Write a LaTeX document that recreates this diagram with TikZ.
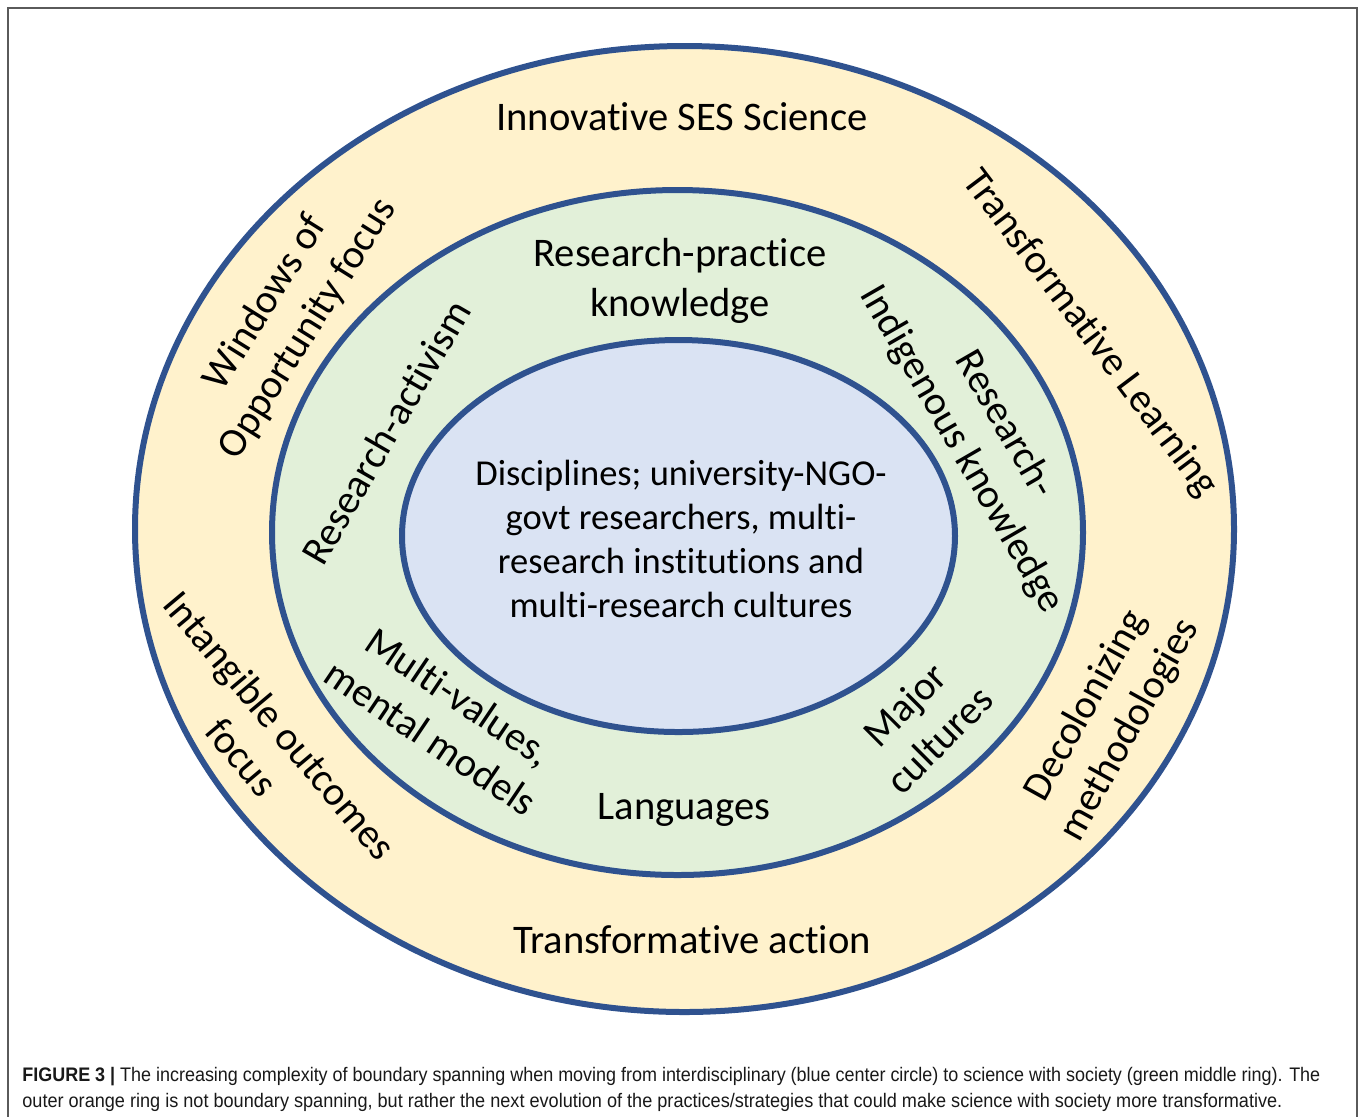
\documentclass[tikz,border=0pt]{standalone}
\usepackage{fontspec}
\setmainfont{Carlito}[Ligatures={NoCommon}]
\newfontfamily\capfont{Liberation Sans}
\usepackage{graphicx}
\definecolor{ringline}{HTML}{2F528F}
\definecolor{outerfill}{HTML}{FFF2CC}
\definecolor{midfill}{HTML}{E2F0D9}
\definecolor{innerfill}{HTML}{DAE3F3}
\definecolor{framegray}{HTML}{5A5A5A}
\newlength\fitlen
\newcommand\fitline[2]{\settowidth{\fitlen}{#2}\pgfmathsetmacro\fitratio{#1/\fitlen}\scalebox{\fitratio}[1]{#2}}
\tikzset{
  ring/.style={draw=ringline, line width=3pt},
  lbl/.style={font=\fontsize{20.3}{24.8}\selectfont, align=center, inner sep=0pt},
  inlbl/.style={font=\fontsize{18.25}{22}\selectfont, align=center, inner sep=0pt},
  caption/.style={font=\capfont\fontsize{9.8}{12}\selectfont, anchor=base west, inner sep=0pt, text=black!90},
}
\begin{document}
\begin{tikzpicture}[x=0.5pt,y=0.5pt]
\useasboundingbox (0,0) rectangle (1360,-1116);
\fill[white] (0,0) rectangle (1360,-1116);
\draw[framegray, line width=1pt] (8,-1120) -- (8,-8) -- (1357,-8) -- (1357,-1120);

% rings
\draw[ring, fill=outerfill] (684.5,-529) ellipse [x radius=274.75pt, y radius=241.5pt];
\draw[ring, fill=midfill] (677.5,-532.5) ellipse [x radius=202.75pt, y radius=171.25pt];
\draw[ring, fill=innerfill] (678.5,-536) ellipse [x radius=138.25pt, y radius=98pt];

% outer ring labels
\node[lbl] (ses) at (682,-117) {Innovative SES Science};
\node[lbl, rotate=-53] (tlearn) at (1090,-334) {Transformative Learning};
\node[lbl, rotate=58] (windows) at (287,-316) {Windows of\\Opportunity focus};
\node[lbl, rotate=-50] (intang) at (261,-741) {Intangible outcomes\\focus};
\node[lbl, rotate=61] (decol) at (1108,-718) {Decolonizing\\methodologies};
\node[lbl] (taction) at (692,-940) {Transformative action};

% middle ring labels
\node[lbl] (rpk) at (680,-281) {Research-practice\\knowledge};
\node[lbl, rotate=60] (ract) at (386,-432) {Research-activism};
\node[lbl, rotate=-60] (rik) at (983,-437) {Research-\\Indigenous knowledge};
\node[lbl, rotate=-34] (mv) at (445,-717) {Multi-values,\\mental models};
\node[lbl] (lang) at (684,-810) {Languages};
\node[lbl, rotate=45] (major) at (922,-722) {Major\\cultures};

% inner label
\node[inlbl] (disc) at (681,-539) {Disciplines; university-NGO-\\govt researchers, multi-\\research institutions and\\multi-research cultures};

% caption
\node[caption] (cap1) at (22,-1081) {\fitline{649}{\textbf{FIGURE 3 |} The increasing complexity of boundary spanning when moving from interdisciplinary (blue center circle) to science with society (green middle ring). The}};
\node[caption] (cap2) at (22,-1107) {\fitline{630}{outer orange ring is not boundary spanning, but rather the next evolution of the practices/strategies that could make science with society more transformative.}};
\end{tikzpicture}
\end{document}
